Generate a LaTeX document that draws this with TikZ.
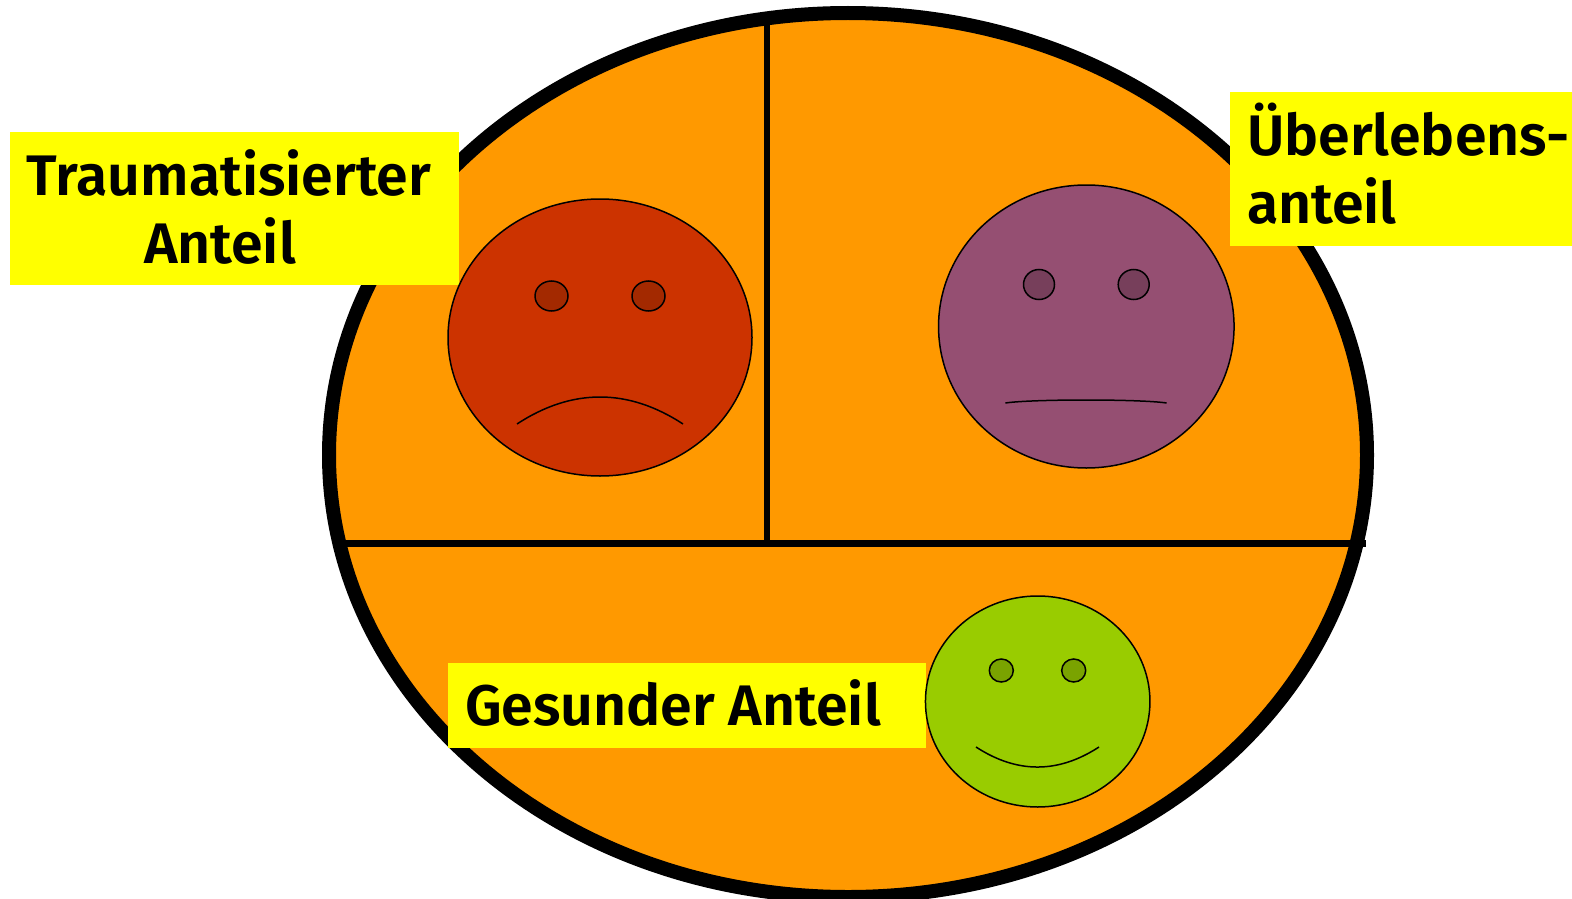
\documentclass[tikz,border=0pt]{standalone}
\usepackage{fontspec}
\setmainfont{Fira Sans}
\newfontfamily\labelfont{Fira Sans SemiBold}
\usetikzlibrary{shapes.geometric}
\definecolor{bodyorange}{HTML}{FF9900}
\definecolor{boxyellow}{HTML}{FFFF00}
\definecolor{redface}{HTML}{CC3300}
\definecolor{redeye}{HTML}{A32900}
\definecolor{purpleface}{HTML}{954F72}
\definecolor{purpleeye}{HTML}{773F5B}
\definecolor{greenface}{HTML}{99CC00}
\definecolor{greeneye}{HTML}{7AA300}
\tikzset{
  x=1pt,y=-1pt,
  whole/.style={ellipse,draw=black,line width=14pt,fill=bodyorange,inner sep=0pt,outer sep=0pt,minimum width=1038pt,minimum height=884pt},
  divider/.style={draw=black,line width=6.6pt},
  roundel/.style={ellipse,draw=black,line width=1.5pt,inner sep=0pt,outer sep=0pt},
  mouth/.style={draw=black,line width=1.5pt},
  labelbox/.style={fill=boxyellow,inner sep=0pt,outer sep=0pt,anchor=north west},
  labeltext/.style={font=\fontsize{57.2}{57.2}\selectfont\labelfont,inner sep=0pt,outer sep=0pt,anchor=base,text=black},
}
\begin{document}
\begin{tikzpicture}
\useasboundingbox (0,0) rectangle (1572,899);
\node[whole] (whole) at (848,455) {};
% dividers
\coordinate (hl) at (346,543.5);
\coordinate (hr) at (1366,543.5);
\coordinate (vt) at (767,15);
\coordinate (vb) at (767,543.5);
\draw[divider] (hl) -- (hr);
\draw[divider] (vt) -- (vb);
% label boxes
\node[labelbox,minimum width=449pt,minimum height=153pt] (boxT) at (10,132) {};
\node[labelbox,minimum width=342pt,minimum height=154pt] (boxU) at (1230,92) {};
\node[labelbox,minimum width=478pt,minimum height=85pt] (boxG) at (448,663) {};
% labels
\node[labeltext] (t1) at (229,195.5) {Traumatisierter};
\node[labeltext] (t2) at (220,263.5) {Anteil};
\node[labeltext,anchor=base west] (u1) at (1247,155.5) {Überlebens-};
\node[labeltext,anchor=base west] (u2) at (1247,223.5) {anteil};
\node[labeltext,anchor=base west] (g1) at (465,725.5) {Gesunder Anteil};
% red face
\node[roundel,fill=redface,minimum width=304pt,minimum height=277pt] (fr) at (600,337.5) {};
\node[roundel,fill=redeye,minimum width=33pt,minimum height=30pt] (fre1) at (551.5,296) {};
\node[roundel,fill=redeye,minimum width=33pt,minimum height=30pt] (fre2) at (648.5,296) {};
\draw[mouth] (517,424) .. controls (572,388) and (628,388) .. (683,424);
% purple face
\node[roundel,fill=purpleface,minimum width=295.5pt,minimum height=283pt] (fp) at (1086.3,326.5) {};
\node[roundel,fill=purpleeye,minimum width=31pt,minimum height=30pt] (fpe1) at (1039,284.5) {};
\node[roundel,fill=purpleeye,minimum width=31pt,minimum height=30pt] (fpe2) at (1133.7,284.5) {};
\draw[mouth] (1005.4,403) .. controls (1032,399) and (1140,399) .. (1166.6,403);
% green face
\node[roundel,fill=greenface,minimum width=224.5pt,minimum height=211pt] (fg) at (1037.7,701.5) {};
\node[roundel,fill=greeneye,minimum width=24pt,minimum height=23pt] (fge1) at (1001.3,670.5) {};
\node[roundel,fill=greeneye,minimum width=24pt,minimum height=23pt] (fge2) at (1073.7,670.5) {};
\draw[mouth] (976,747) .. controls (1017,773.7) and (1058,773.7) .. (1099,747);
\end{tikzpicture}
\end{document}
